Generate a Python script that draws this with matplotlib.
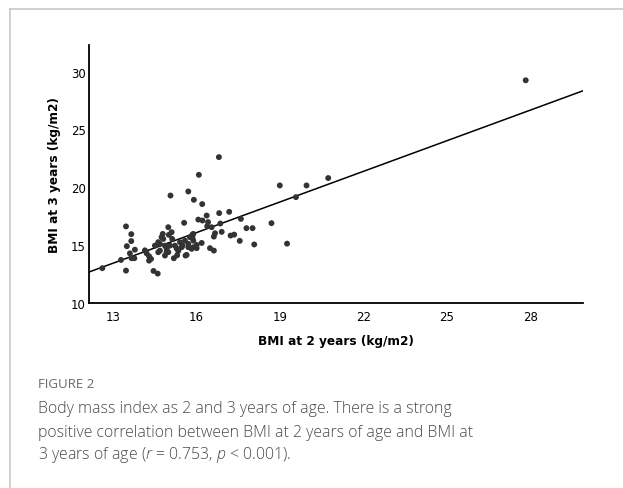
import matplotlib
matplotlib.use("Agg")
import matplotlib.pyplot as plt
import numpy as np
from matplotlib.lines import Line2D

# ---- data ----
bmi_2y = [12.62, 13.29, 13.47, 13.47, 13.66, 13.66, 13.50, 13.79, 13.61, 13.67,
          13.77, 14.15, 14.21, 14.30, 14.37, 14.30, 14.46, 14.61, 14.63, 14.69,
          14.79, 14.81, 14.87, 14.93, 14.99, 15.01, 15.11, 15.13, 15.05, 14.93,
          15.19, 15.31, 15.23, 15.41, 15.47, 15.56, 15.59, 15.61, 15.77, 15.71,
          15.83, 15.89, 15.07, 15.71, 15.91, 16.21, 16.09, 16.81, 19.00, 19.96,
          20.74, 19.58, 27.84, 16.37, 16.82, 17.18, 16.07, 16.22, 16.42, 16.39,
          16.55, 16.86, 17.60, 17.80, 18.02, 18.70, 16.67, 16.91, 16.63, 17.23,
          17.36, 17.56, 18.08, 19.26, 16.19, 16.01, 15.89, 16.49, 16.63, 15.86,
          15.86, 14.75, 14.63, 14.51, 15.50, 15.71, 15.29, 15.35, 16.01, 15.89,
          14.69, 14.99, 14.87, 15.65]
bmi_3y = [13.01, 13.72, 12.80, 16.62, 15.95, 15.35, 14.91, 14.61, 14.29, 13.87,
          13.87, 14.55, 14.30, 14.04, 13.81, 13.66, 12.77, 12.54, 14.39, 15.11,
          15.97, 15.54, 14.96, 14.68, 16.55, 15.89, 16.12, 15.54, 14.96, 14.39,
          13.87, 14.13, 14.96, 15.26, 14.82, 16.93, 15.39, 14.10, 15.69, 14.82,
          14.68, 15.97, 19.29, 19.64, 18.92, 18.55, 21.08, 22.61, 20.16, 20.16,
          20.80, 19.15, 29.25, 17.56, 17.77, 17.88, 17.21, 17.13, 16.99, 16.64,
          16.55, 16.87, 17.27, 16.47, 16.47, 16.90, 16.03, 16.15, 15.74, 15.83,
          15.91, 15.37, 15.06, 15.13, 15.19, 15.02, 14.82, 14.74, 14.53, 15.91,
          15.63, 15.69, 15.26, 14.96, 14.96, 15.11, 14.72, 14.50, 14.74, 15.39,
          14.53, 14.39, 14.10, 14.16]
fit_slope = 0.882
fit_intercept = 1.97
x_ticks = [13, 16, 19, 22, 25, 28]
y_ticks = [10, 15, 20, 25, 30]
x_label = "BMI at 2 years (kg/m2)"
y_label = "BMI at 3 years (kg/m2)"
fig_label = "FIGURE 2"
caption_lines = [
    "Body mass index as 2 and 3 years of age. There is a strong",
    "positive correlation between BMI at 2 years of age and BMI at",
    "3 years of age ($r$ = 0.753, $p$ < 0.001).",
]

plt.rcParams["mathtext.fontset"] = "custom"
plt.rcParams["mathtext.rm"] = "Open Sans:light"
plt.rcParams["mathtext.it"] = "Open Sans:italic:light"

W, H = 623, 489
fig = plt.figure(figsize=(W / 100, H / 100), dpi=100)

# frame lines (light gray)
fig.add_artist(Line2D([10 / W, 10 / W], [0, 1 - 10 / H], color="#c8c8c8", lw=1.2,
                      transform=fig.transFigure))
fig.add_artist(Line2D([10 / W, 1], [1 - 10 / H, 1 - 10 / H], color="#c8c8c8", lw=1.2,
                      transform=fig.transFigure))

left, right, top, bottom = 89, 583, 46, 304
ax = fig.add_axes([left / W, 1 - bottom / H, (right - left) / W, (bottom - top) / H])

ax.scatter(bmi_2y, bmi_3y, s=18, color="#333333", edgecolors="none", zorder=3)
xlim = (12.14, 29.9)
xs = np.array(xlim)
ax.plot(xs, fit_intercept + fit_slope * xs, color="black", lw=1.1, zorder=2)

ax.set_xlim(*xlim)
ax.set_ylim(10, 32.3)
ax.set_xticks(x_ticks)
ax.set_yticks(y_ticks)
ax.tick_params(axis="y", length=0, labelsize=8.5, pad=2.5)
ax.tick_params(axis="x", length=0, labelsize=8.5, pad=5)
for s in ["top", "right"]:
    ax.spines[s].set_visible(False)
for s in ["left", "bottom"]:
    ax.spines[s].set_linewidth(1.3)
    ax.spines[s].set_color("black")

ax.set_xlabel(x_label, fontsize=8.7, fontweight="bold", labelpad=8)
ax.set_ylabel(y_label, fontsize=8.7, fontweight="bold", labelpad=7)

fig.text(38 / W, 1 - 385 / H, fig_label, fontsize=9.5, color="#6a6a6a",
         family="Open Sans", va="center", ha="left")
ys = [409, 433, 455]
for line, y in zip(caption_lines, ys):
    fig.text(38 / W, 1 - y / H, line, fontsize=11.4, color="#4a4a4a",
             family="Open Sans", fontweight="light", va="center", ha="left")

fig.savefig("out.png", dpi=100)
